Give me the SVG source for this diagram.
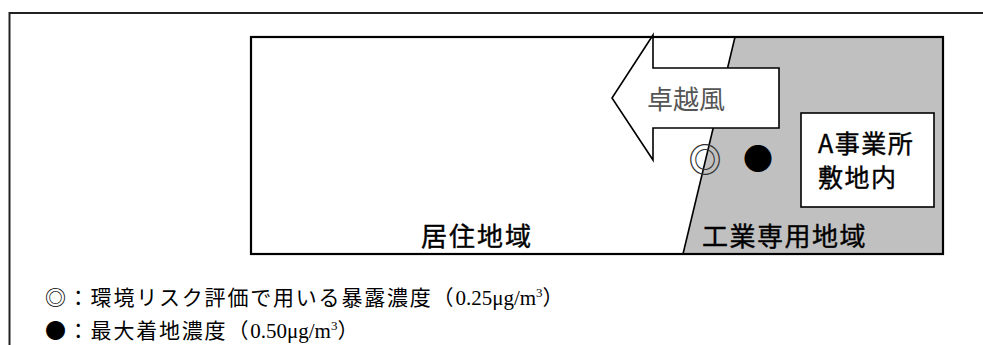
<svg xmlns="http://www.w3.org/2000/svg" width="983" height="345" viewBox="0 0 983 345">
<style>
.sans{font-family:"Noto Sans CJK JP","Noto Sans",sans-serif;fill:#000;stroke:#000;stroke-width:0.4}
.leg{font-family:"Noto Sans CJK JP","Noto Sans",sans-serif;fill:#000;font-size:21px;letter-spacing:1.8px}
.lat{font-family:"Liberation Serif",serif;letter-spacing:0}
.ln{stroke:#000;stroke-width:1.6;fill:none}
</style>
<rect width="983" height="345" fill="#fff"/>
<g id="frame"><path d="M9.5,345 V13 H983" fill="none" stroke="#222" stroke-width="2"/></g>
<g id="residential">
<rect x="251" y="37" width="692" height="217" fill="#fff"/>
<text class="sans" x="421" y="246" font-size="26" letter-spacing="2">居住地域</text>
</g>
<g id="industrial">
<polygon points="735,37 943,37 943,254 683,254" fill="#c0c0c0"/>
<line class="ln" x1="735" y1="37" x2="683" y2="254"/>
<text class="sans" x="702" y="246" font-size="26" letter-spacing="1.5">工業専用地域</text>
</g>
<g id="connectors">
<g id="wind">
<polygon points="779,68 653,68 653,35 612,98 653,160 653,128 779,128" fill="#fff" stroke="#000" stroke-width="1.6"/>
<text x="647" y="108.5" font-size="26" style="font-family:'Noto Sans CJK JP',sans-serif;fill:#555">卓越風</text>
</g>
</g>
<rect x="251" y="37" width="692" height="217" fill="none" stroke="#000" stroke-width="2.2"/>
<g id="siteA">
<rect x="801" y="113" width="133" height="94" fill="#fff" stroke="#000" stroke-width="1.6"/>
<text class="sans" x="818" y="152.5" font-size="25" letter-spacing="1.5">A事業所</text>
<text class="sans" x="818" y="186.5" font-size="25" letter-spacing="1.5">敷地内</text>
</g>
<g id="exposure"><text x="705" y="172" font-size="33" text-anchor="middle" style="font-family:'Noto Sans CJK JP',sans-serif;fill:#333">◎</text></g>
<g id="maxpoint"><text x="758" y="170" font-size="30" text-anchor="middle" style="font-family:'Noto Sans CJK JP',sans-serif;fill:#000">●</text></g>
<g id="legend">
<text class="leg" x="45" y="305">◎：環境リスク評価で用いる暴露濃度（<tspan class="lat">0.25μg/m</tspan><tspan class="lat" font-size="13" dy="-8">3</tspan><tspan dy="8">）</tspan></text>
<text class="leg" x="45" y="338">●：最大着地濃度（<tspan class="lat">0.50μg/m</tspan><tspan class="lat" font-size="13" dy="-8">3</tspan><tspan dy="8">）</tspan></text>
</g>
</svg>
